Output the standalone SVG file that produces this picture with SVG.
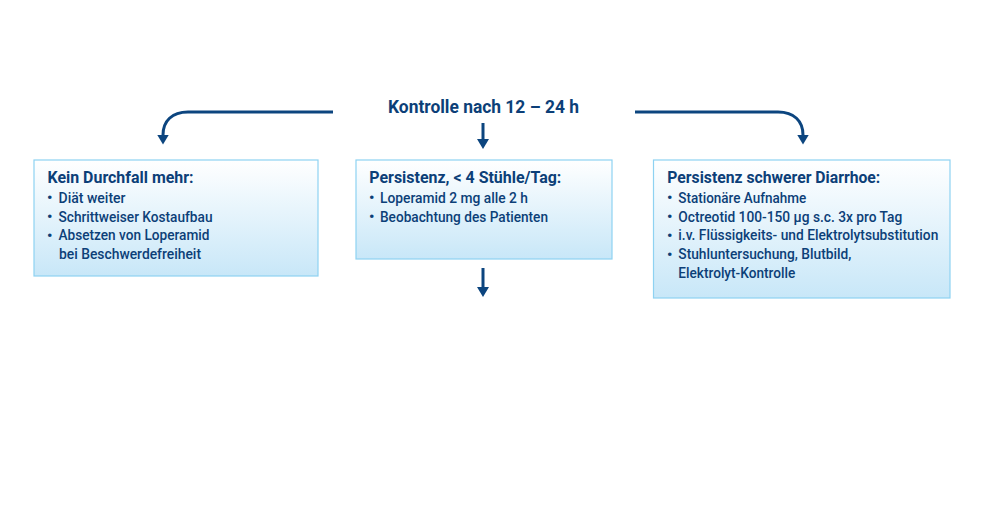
<svg xmlns="http://www.w3.org/2000/svg" width="984" height="530" viewBox="0 0 984 530">
  <defs>
    <linearGradient id="boxfill" x1="0" y1="0" x2="0" y2="1">
      <stop offset="0" stop-color="#ffffff"/>
      <stop offset="1" stop-color="#c8e7f8"/>
    </linearGradient>
    <marker id="head" viewBox="0 0 10 12" markerUnits="userSpaceOnUse" markerWidth="10" markerHeight="12" refX="0.5" refY="6" orient="auto">
      <path d="M0,0 L10,6 L0,12 z" fill="#0c457f"/>
    </marker>
  </defs>
  <style>
    .box { fill: url(#boxfill); stroke: #8ed2f2; stroke-width: 1.2; }
    text { font-family: Roboto, "Liberation Sans", sans-serif; fill: #0c3f78; }
    .title { font-size: 18.5px; font-weight: 700; }
    .head { font-size: 17px; font-weight: 700; }
    .item { font-size: 15.5px; font-weight: 500; }
    .bul { font-size: 15px; font-weight: 700; }
    .conn { fill: none; stroke: #0c457f; stroke-width: 3; marker-end: url(#head); }
  </style>
  <rect width="984" height="530" fill="#ffffff"/>

  <g id="title">
    <text class="title" x="388" y="113.3" textLength="191" lengthAdjust="spacingAndGlyphs">Kontrolle nach 12 – 24 h</text>
  </g>

  <g id="connectors">
    <path class="conn" d="M333,112 H188 C172,112 163,121 163,135"/>
    <path class="conn" d="M483,123 V139.5"/>
    <path class="conn" d="M635,112 H778 C794,112 803,121 803,135"/>
    <path class="conn" d="M483,268 V287.5"/>
  </g>

  <g id="box-left">
    <rect class="box" x="34" y="160" width="284" height="116"/>
    <text class="head" x="47.5" y="182.5" textLength="146" lengthAdjust="spacingAndGlyphs">Kein Durchfall mehr:</text>
    <text class="bul" x="47" y="203">•</text>
    <text class="item" x="58.5" y="202.9" textLength="67" lengthAdjust="spacingAndGlyphs">Diät weiter</text>
    <text class="bul" x="47" y="222">•</text>
    <text class="item" x="58.5" y="221.9" textLength="154" lengthAdjust="spacingAndGlyphs">Schrittweiser Kostaufbau</text>
    <text class="bul" x="47" y="240.5">•</text>
    <text class="item" x="58.5" y="240.4" textLength="151" lengthAdjust="spacingAndGlyphs">Absetzen von Loperamid</text>
    <text class="item" x="59" y="259" textLength="142" lengthAdjust="spacingAndGlyphs">bei Beschwerdefreiheit</text>
  </g>

  <g id="box-middle">
    <rect class="box" x="356" y="160" width="256" height="99"/>
    <text class="head" x="369.3" y="182.8" textLength="192" lengthAdjust="spacingAndGlyphs">Persistenz, &lt; 4 Stühle/Tag:</text>
    <text class="bul" x="369" y="202.7">•</text>
    <text class="item" x="380" y="202.6" textLength="148" lengthAdjust="spacingAndGlyphs">Loperamid 2 mg alle 2 h</text>
    <text class="bul" x="369" y="222">•</text>
    <text class="item" x="380" y="221.9" textLength="168" lengthAdjust="spacingAndGlyphs">Beobachtung des Patienten</text>
  </g>

  <g id="box-right">
    <rect class="box" x="653.5" y="160" width="296.5" height="138"/>
    <text class="head" x="667.3" y="182.7" textLength="213" lengthAdjust="spacingAndGlyphs">Persistenz schwerer Diarrhoe:</text>
    <text class="bul" x="667" y="203">•</text>
    <text class="item" x="678.3" y="202.9" textLength="128" lengthAdjust="spacingAndGlyphs">Stationäre Aufnahme</text>
    <text class="bul" x="667" y="222">•</text>
    <text class="item" x="678.3" y="221.9" textLength="224" lengthAdjust="spacingAndGlyphs">Octreotid 100-150 µg s.c. 3x pro Tag</text>
    <text class="bul" x="667" y="240.5">•</text>
    <text class="item" x="678.3" y="240.4" textLength="260" lengthAdjust="spacingAndGlyphs">i.v. Flüssigkeits- und Elektrolytsubstitution</text>
    <text class="bul" x="667" y="259.5">•</text>
    <text class="item" x="678.3" y="259.4" textLength="173" lengthAdjust="spacingAndGlyphs">Stuhluntersuchung, Blutbild,</text>
    <text class="item" x="678.3" y="277.7" textLength="117" lengthAdjust="spacingAndGlyphs">Elektrolyt-Kontrolle</text>
  </g>
</svg>
